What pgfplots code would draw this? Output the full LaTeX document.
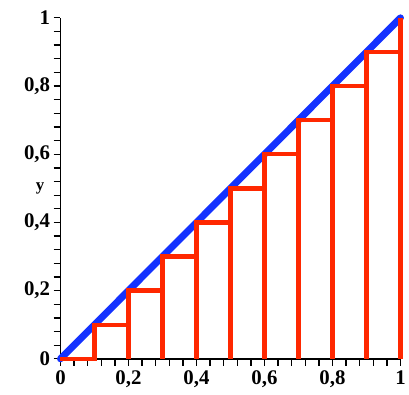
\documentclass[border=0pt]{standalone}
\usepackage{pgfplots}
\pgfplotsset{compat=1.18}
\usepackage{fontspec}
\setmainfont{Liberation Serif}
\definecolor{myred}{RGB}{255,40,0}
\definecolor{myblue}{RGB}{20,50,255}
\begin{document}
\begin{tikzpicture}[x=1pt,y=1pt]
\begin{axis}[
  scale only axis, width=343pt, height=344pt,
  xmin=0, xmax=1, ymin=0, ymax=1,
  axis x line=bottom, axis y line=left,
  axis line style={-, line width=1.6pt},
  tick align=outside,
  xtick={0,0.2,...,1}, ytick={0,0.2,...,1},
  minor tick num=4,
  major tick length=7pt, minor tick length=7pt,
  every tick/.style={black, line width=1.3pt},
  /pgf/number format/assume math mode=true,
  /pgf/number format/use comma,
  tick label style={font=\fontsize{21}{24}\selectfont\bfseries},
  xticklabel style={yshift=-1pt},
  ylabel={y},
  ylabel style={rotate=-90, font=\fontsize{17}{20}\selectfont\bfseries, at={(axis description cs:-0.06,0.5)}, anchor=center},
  clip=false,
]
\addplot[myblue, line width=7pt, line cap=round] coordinates {(0,0) (1,1)};
\addplot[myred, line width=4.5pt, line join=miter] coordinates {
(0,0) (0.1,0) (0.1,0.1) (0.2,0.1) (0.2,0.2) (0.3,0.2) (0.3,0.3) (0.4,0.3) (0.4,0.4)
(0.5,0.4) (0.5,0.5) (0.6,0.5) (0.6,0.6) (0.7,0.6) (0.7,0.7) (0.8,0.7) (0.8,0.8)
(0.9,0.8) (0.9,0.9) (1,0.9) (1,1)};
\addplot[myred, line width=4.5pt, ycomb, mark=none] coordinates {
(0.1,0.1) (0.2,0.2) (0.3,0.3) (0.4,0.4) (0.5,0.5) (0.6,0.6) (0.7,0.7) (0.8,0.8) (0.9,0.9) (1,1)};
\end{axis}
\path (current axis.south west) ++(-61pt,-36pt) (current axis.north east) ++(5pt,18pt);
\end{tikzpicture}
\end{document}
